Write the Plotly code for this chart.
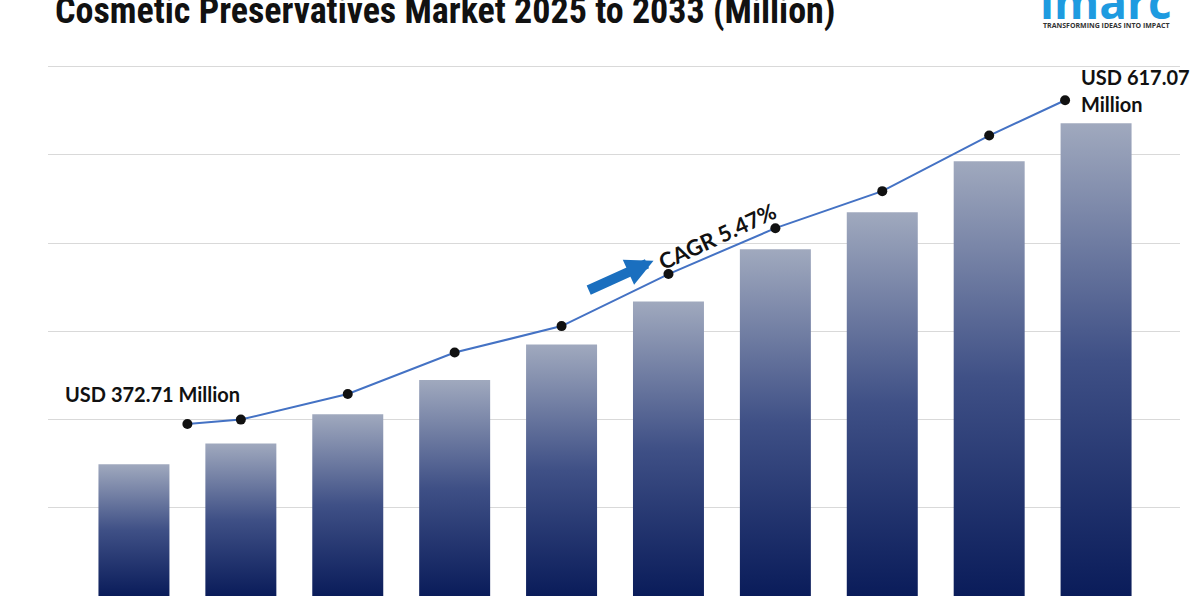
import plotly.graph_objects as go

# ---- data ----
bar_values = [149.5, 173, 206, 245, 285, 334, 393, 435, 493, 536]
bar_index = [0, 1, 2, 3, 4, 5, 6, 7, 8, 9]
line_x = [0.5, 1, 2, 3, 4, 5, 6, 7, 8, 8.71]
line_values = [195, 200, 229, 276, 306, 365, 417, 459, 522, 562]
grid_ticks = [0, 100, 200, 300, 400, 500, 600]

title_text = "Cosmetic Preservatives Market 2025 to 2033 (Million)"
start_label = "USD 372.71 Million"
end_label_1 = "USD 617.07"
end_label_2 = "Million"
cagr_label = "CAGR 5.47%"

BAR_HALF = 0.332
BAR_SCALE = [[0, "#0a1c5a"], [0.5, "#3f5086"], [1, "#a0a9be"]]

fig = go.Figure()

for xi, v in zip(bar_index, bar_values):
    fig.add_trace(go.Scatter(
        x=[xi - BAR_HALF, xi + BAR_HALF, xi + BAR_HALF, xi - BAR_HALF, xi - BAR_HALF],
        y=[0, 0, v, v, 0],
        mode="lines", fill="toself",
        fillgradient=dict(type="vertical", colorscale=BAR_SCALE),
        line=dict(width=0, color="rgba(0,0,0,0)"),
        hoverinfo="skip", showlegend=False,
    ))

fig.add_trace(go.Scatter(
    x=line_x, y=line_values, mode="lines+markers",
    line=dict(color="#4472c4", width=2),
    marker=dict(color="#111111", size=10),
    showlegend=False,
))

label_font = "Lato, 'Open Sans', sans-serif"

fig.add_annotation(x=-0.664, y=229, xref="x", yref="y", text=start_label,
                   showarrow=False, xanchor="left", yanchor="middle",
                   font=dict(family=label_font, size=20, color="#111111", weight="bold"))
fig.add_annotation(x=8.84, y=588, xref="x", yref="y", text=end_label_1,
                   showarrow=False, xanchor="left", yanchor="middle",
                   font=dict(family=label_font, size=20, color="#111111", weight="bold"))
fig.add_annotation(x=8.84, y=558, xref="x", yref="y", text=end_label_2,
                   showarrow=False, xanchor="left", yanchor="middle",
                   font=dict(family=label_font, size=20, color="#111111", weight="bold"))

fig.add_annotation(x=5.45, y=408, xref="x", yref="y", text=cagr_label,
                   showarrow=False, textangle=-25,
                   font=dict(family=label_font, size=22, color="#111111", weight="bold"))

# blue arrow
fig.add_annotation(x=4.86, y=380, xref="x", yref="y",
                   ax=4.24, ay=346, axref="x", ayref="y",
                   text="", showarrow=True, arrowhead=2, arrowsize=0.55,
                   arrowwidth=10, arrowcolor="#1a6fbf")

# title (cropped at top as in the reference)
fig.add_annotation(x=0.004, y=1.0, xref="paper", yref="paper", yshift=54,
                   text="<b>" + title_text + "</b>", showarrow=False,
                   xanchor="left", yanchor="middle",
                   font=dict(family="'Liberation Sans Narrow', 'Roboto Condensed', 'DejaVu Sans Condensed', sans-serif",
                             size=36, color="#111111"))

# logo text
fig.add_annotation(x=0.935, y=1.0, xref="paper", yref="paper", yshift=64,
                   text="<b>imarc</b>", showarrow=False, xanchor="center", yanchor="middle",
                   font=dict(family="'Open Sans', sans-serif", size=46, color="#1e9be0"))
fig.add_annotation(x=0.935, y=1.0, xref="paper", yref="paper", yshift=40,
                   text="<b>TRANSFORMING IDEAS INTO IMPACT</b>", showarrow=False,
                   xanchor="center", yanchor="middle",
                   font=dict(family="'Open Sans', sans-serif", size=7, color="#333333"))

fig.update_layout(
    width=1200, height=600,
    margin=dict(l=48, r=20, t=65, b=4),
    paper_bgcolor="white", plot_bgcolor="white",
    showlegend=False,
    xaxis=dict(range=[-0.804, 9.785], showgrid=False, zeroline=False,
               showticklabels=False, ticks=""),
    yaxis=dict(range=[0, 602], tickvals=grid_ticks, showgrid=True,
               gridcolor="#d9d9d9", gridwidth=1, zeroline=False,
               showticklabels=False, ticks=""),
)

fig.write_html("out.html")
